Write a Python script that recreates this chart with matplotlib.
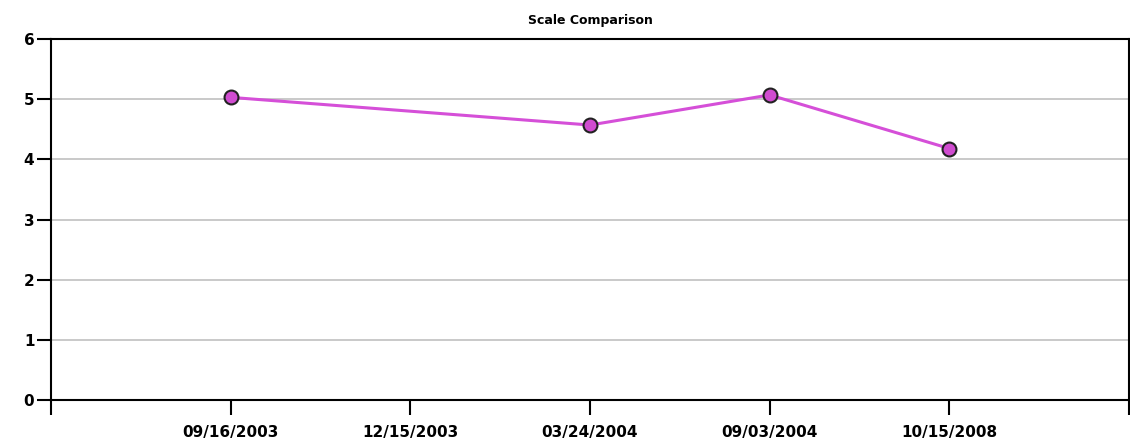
import numpy as np
import matplotlib.pyplot as plt

# chart data
dates = ['09/16/2003', '12/15/2003', '03/24/2004', '09/03/2004', '10/15/2008']
scores = [5.03, np.nan, 4.57, 5.07, 4.18]

fig = plt.figure(figsize=(11.30, 4.41), dpi=100)
ax = fig.add_axes([51/1130, 41/441, 1078/1130, 361/441])

# skip the missing date so the line joins the neighbours
x = np.arange(len(dates))
mask = ~np.isnan(scores)
ax.plot(x[mask], np.array(scores)[mask], color='#d54fd8', linewidth=2.2,
        marker='o', markersize=10, markerfacecolor='#d04cd0',
        markeredgecolor='#222222', markeredgewidth=1.5, zorder=3)

ax.set_xlim(-1, len(dates))
ax.set_ylim(0, 6)
ax.set_xticks(np.arange(-1, len(dates) + 1))
ax.set_xticklabels([''] + dates + [''])
ax.set_yticks(range(0, 7))

ax.yaxis.grid(True, color='#c0c0c0', linewidth=1.2)
ax.set_axisbelow(True)
for s in ax.spines.values():
    s.set_linewidth(1.5)
    s.set_color('black')

ax.tick_params(axis='both', direction='out', length=10, width=1.5, color='black')
ax.tick_params(axis='x', length=11, pad=7)
ax.tick_params(axis='y', pad=2)
for lab in ax.get_xticklabels() + ax.get_yticklabels():
    lab.set_fontweight('bold')
    lab.set_fontsize(11)
    lab.set_family('DejaVu Sans')

ax.set_title('Scale Comparison', fontsize=9, fontweight='bold', pad=11)

fig.savefig('out.png', dpi=100)
